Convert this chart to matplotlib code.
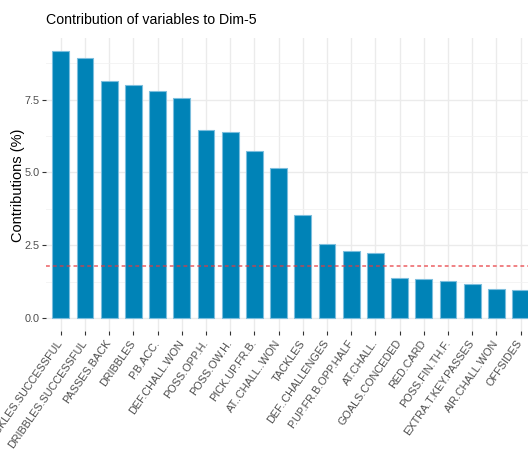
import matplotlib
matplotlib.use("Agg")
import matplotlib.pyplot as plt
import numpy as np

variables = ["TACKLES.SUCCESSFUL", "DRIBBLES.SUCCESSFUL", "PASSES.BACK", "DRIBBLES",
             "P.B.ACC.", "DEF.CHALL.WON", "POSS.OPP.H.", "POSS.OW.H.",
             "PICK.UP.FR.B.", "AT..CHALL..WON", "TACKLES", "DEF..CHALLENGES",
             "P.UP.FR.B.OPP.HALF", "AT.CHALL.", "GOALS.CONCEDED", "RED.CARD",
             "POSS.FIN.TH.F.", "EXTRA.T.KEY.PASSES", "AIR.CHALL.WON", "OFFSIDES"]
contrib = [9.16, 8.94, 8.15, 7.99, 7.81, 7.55, 6.45, 6.38, 5.72, 5.15,
           3.53, 2.54, 2.29, 2.22, 1.39, 1.35, 1.27, 1.17, 0.98, 0.95]
expected = 1.77
yticks = [0.0, 2.5, 5.0, 7.5]
title = "Contribution of variables to Dim-5"
ylabel = "Contributions (%)"

plt.rcParams['font.family'] = ['Liberation Sans', 'DejaVu Sans']

W, H = 528, 450
fig = plt.figure(figsize=(W / 100, H / 100), dpi=100)
ax = fig.add_axes([46.3 / W, 118.7 / H, (535.1 - 46.3) / W, (331.3 - 38) / H])

x = np.arange(len(variables))
ax.bar(x, contrib, width=0.7, color='#0083B7', edgecolor='#7CBEDD', linewidth=0.8, zorder=2)
ax.axhline(expected, color='#E8383D', linestyle=(0, (2.5, 2.0)), linewidth=1.1, alpha=0.8, zorder=3)

ymax = max(contrib)
ax.set_xlim(-0.6, len(variables) - 0.4)
ax.set_ylim(-0.05 * ymax, ymax * 1.05)

ax.set_yticks(yticks)
ax.set_yticklabels([f"{v:.1f}" for v in yticks])
ax.set_yticks([1.25, 3.75, 6.25, 8.75], minor=True)
ax.set_xticks(x)
ax.set_xticklabels(variables, rotation=55, ha='right', va='center', rotation_mode='anchor')

for s in ax.spines.values():
    s.set_visible(False)
ax.set_facecolor('white')
ax.grid(True, which='major', color='#EBEBEB', linewidth=1.0, zorder=0)
ax.grid(True, which='minor', axis='y', color='#F2F2F2', linewidth=0.6, zorder=0)
ax.set_axisbelow(True)
ax.tick_params(axis='both', which='major', length=3, width=0.8, color='#333333',
               labelcolor='#4D4D4D', labelsize=7.8, pad=2)
ax.tick_params(axis='y', which='minor', length=0)
ax.tick_params(axis='x', pad=4)

fig.text(46.5 / W, 1 - 20 / H, title, fontsize=10.2, ha='left', va='center', color='black')
fig.text(18 / W, 1 - 185 / H, ylabel, fontsize=10.5, rotation=90, ha='center', va='center', color='black')

fig.savefig("out.png", dpi=100, facecolor='white')
